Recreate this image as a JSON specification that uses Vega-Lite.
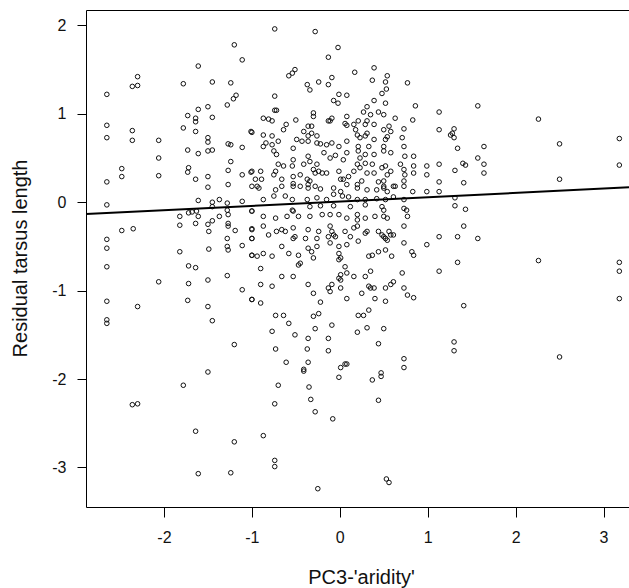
{
  "$schema": "https://vega.github.io/schema/vega-lite/v6.json",
  "autosize": {"type": "none"},
  "padding": {"left": 86, "top": 10, "right": 0, "bottom": 81},
  "width": 543,
  "height": 497,
  "background": "white",
  "config": {
    "view": {"stroke": null},
    "font": "Liberation Sans",
    "axis": {"domainColor": "#000", "tickColor": "#000", "labelColor": "#111", "titleColor": "#111", "grid": false, "labelFont": "Liberation Sans", "titleFont": "Liberation Sans", "titleFontWeight": "normal", "labelFontSize": 16, "titleFontSize": 20, "tickSize": 9, "domainWidth": 1, "tickWidth": 1}
  },
  "datasets": {
    "pts": [
      {"pc3":-1.20,"resid":1.78},{"pc3":-1.11,"resid":1.61},{"pc3":-1.61,"resid":1.54},{"pc3":-2.30,"resid":1.42},{"pc3":-2.36,"resid":1.31},{"pc3":-2.30,"resid":1.32},{"pc3":-1.78,"resid":1.34},{"pc3":-1.45,"resid":1.36},{"pc3":-1.24,"resid":1.35},{"pc3":-2.65,"resid":1.22},{"pc3":-1.18,"resid":1.21},{"pc3":-1.21,"resid":1.17},{"pc3":-1.28,"resid":1.10},{"pc3":-1.50,"resid":1.08},{"pc3":-1.61,"resid":1.05},{"pc3":-1.45,"resid":0.96},{"pc3":-1.73,"resid":0.98},{"pc3":-1.64,"resid":0.95},{"pc3":-1.64,"resid":0.91},{"pc3":-1.78,"resid":0.84},{"pc3":-1.64,"resid":0.80},{"pc3":-2.65,"resid":0.87},{"pc3":-2.65,"resid":0.73},{"pc3":-2.36,"resid":0.81},{"pc3":-2.36,"resid":0.70},{"pc3":-2.06,"resid":0.70},{"pc3":-1.50,"resid":0.73},{"pc3":-1.50,"resid":0.68},{"pc3":-1.01,"resid":0.80},{"pc3":-1.27,"resid":0.66},{"pc3":-1.24,"resid":0.65},{"pc3":-1.11,"resid":0.62},{"pc3":-1.73,"resid":0.59},{"pc3":-1.61,"resid":0.55},{"pc3":-1.50,"resid":0.58},{"pc3":-1.45,"resid":0.59},{"pc3":-2.06,"resid":0.50},{"pc3":-1.24,"resid":0.46},{"pc3":-2.48,"resid":0.38},{"pc3":-2.48,"resid":0.29},{"pc3":-2.06,"resid":0.30},{"pc3":-1.72,"resid":0.39},{"pc3":-1.73,"resid":0.34},{"pc3":-1.64,"resid":0.26},{"pc3":-1.50,"resid":0.29},{"pc3":-1.27,"resid":0.36},{"pc3":-1.11,"resid":0.31},{"pc3":-1.01,"resid":0.34},{"pc3":-2.65,"resid":0.23},{"pc3":-1.50,"resid":0.17},{"pc3":-1.27,"resid":0.20},{"pc3":-0.96,"resid":0.26},
      {"pc3":-2.65,"resid":-0.03},{"pc3":-1.61,"resid":0.02},{"pc3":-1.45,"resid":0.00},{"pc3":-1.37,"resid":0.03},{"pc3":-1.28,"resid":-0.01},{"pc3":-1.11,"resid":0.01},{"pc3":-1.00,"resid":-0.10},{"pc3":-1.82,"resid":-0.16},{"pc3":-1.72,"resid":-0.12},{"pc3":-1.68,"resid":-0.11},{"pc3":-1.63,"resid":-0.10},{"pc3":-1.61,"resid":-0.16},{"pc3":-1.45,"resid":-0.05},{"pc3":-1.45,"resid":-0.21},{"pc3":-1.37,"resid":-0.16},{"pc3":-1.28,"resid":-0.09},{"pc3":-1.27,"resid":-0.14},{"pc3":-1.27,"resid":-0.24},{"pc3":-1.27,"resid":-0.27},{"pc3":-1.82,"resid":-0.26},{"pc3":-1.64,"resid":-0.24},{"pc3":-1.50,"resid":-0.25},{"pc3":-1.49,"resid":-0.33},{"pc3":-1.19,"resid":-0.32},{"pc3":-1.00,"resid":-0.30},{"pc3":-2.48,"resid":-0.32},{"pc3":-2.35,"resid":-0.30},{"pc3":-2.65,"resid":-0.42},{"pc3":-2.65,"resid":-0.52},{"pc3":-1.82,"resid":-0.56},{"pc3":-1.49,"resid":-0.53},{"pc3":-1.28,"resid":-0.41},{"pc3":-1.28,"resid":-0.50},{"pc3":-1.27,"resid":-0.54},{"pc3":-1.11,"resid":-0.49},{"pc3":-1.00,"resid":-0.41},{"pc3":-1.00,"resid":-0.60},{"pc3":-2.65,"resid":-0.73},{"pc3":-1.72,"resid":-0.72},{"pc3":-1.64,"resid":-0.74},{"pc3":-2.06,"resid":-0.90},{"pc3":-1.72,"resid":-0.92},{"pc3":-1.50,"resid":-0.88},{"pc3":-1.28,"resid":-0.83},{"pc3":-1.11,"resid":-0.99},{"pc3":-1.00,"resid":-1.10},{"pc3":-2.65,"resid":-1.12},{"pc3":-2.30,"resid":-1.18},{"pc3":-1.73,"resid":-1.11},{"pc3":-1.50,"resid":-1.18},{"pc3":-1.45,"resid":-1.34},{"pc3":-2.65,"resid":-1.33},{"pc3":-2.65,"resid":-1.37},{"pc3":-1.20,"resid":-1.61},{"pc3":-1.50,"resid":-1.92},
      {"pc3":-1.78,"resid":-2.07},{"pc3":-2.36,"resid":-2.29},{"pc3":-2.30,"resid":-2.28},{"pc3":-1.64,"resid":-2.59},{"pc3":-1.20,"resid":-2.71},{"pc3":-1.61,"resid":-3.07},{"pc3":-1.24,"resid":-3.06},
      {"pc3":1.57,"resid":1.09},{"pc3":2.26,"resid":0.94},{"pc3":1.30,"resid":0.83},{"pc3":1.28,"resid":0.78},{"pc3":1.30,"resid":0.73},{"pc3":1.34,"resid":0.61},{"pc3":1.64,"resid":0.63},{"pc3":3.18,"resid":0.72},{"pc3":2.50,"resid":0.66},{"pc3":1.57,"resid":0.50},{"pc3":1.40,"resid":0.44},{"pc3":1.43,"resid":0.42},{"pc3":1.64,"resid":0.43},{"pc3":1.31,"resid":0.36},{"pc3":1.64,"resid":0.33},{"pc3":3.18,"resid":0.42},{"pc3":1.41,"resid":0.22},{"pc3":2.50,"resid":0.26},
      {"pc3":1.31,"resid":0.05},{"pc3":1.31,"resid":-0.04},{"pc3":1.43,"resid":-0.08},{"pc3":1.41,"resid":-0.27},{"pc3":1.34,"resid":-0.39},{"pc3":1.57,"resid":-0.41},{"pc3":1.34,"resid":-0.68},{"pc3":2.26,"resid":-0.66},{"pc3":3.18,"resid":-0.68},{"pc3":3.18,"resid":-0.78},{"pc3":3.18,"resid":-1.09},{"pc3":1.41,"resid":-1.17},{"pc3":1.30,"resid":-1.58},{"pc3":1.30,"resid":-1.68},{"pc3":2.50,"resid":-1.75},
      {"pc3":-0.70,"resid":-2.07},{"pc3":-0.35,"resid":-2.09},{"pc3":-0.01,"resid":-1.98},{"pc3":0.37,"resid":-2.01},{"pc3":0.47,"resid":-1.97},{"pc3":0.47,"resid":-1.93},{"pc3":-0.41,"resid":-1.91},{"pc3":-0.74,"resid":-2.28},{"pc3":-0.33,"resid":-2.23},{"pc3":-0.28,"resid":-2.37},{"pc3":-0.08,"resid":-2.45},{"pc3":0.44,"resid":-2.24},{"pc3":-0.87,"resid":-2.64},{"pc3":-0.74,"resid":-2.92},{"pc3":-0.74,"resid":-2.99},{"pc3":-0.25,"resid":-3.24},{"pc3":0.53,"resid":-3.13},{"pc3":0.56,"resid":-3.17},
      {"pc3":-0.92,"resid":0.16},{"pc3":-0.73,"resid":0.14},{"pc3":-0.66,"resid":0.18},{"pc3":-0.53,"resid":0.18},{"pc3":-0.36,"resid":0.16},{"pc3":-0.22,"resid":0.15},{"pc3":-0.07,"resid":0.16},{"pc3":0.01,"resid":0.12},{"pc3":0.20,"resid":0.16},{"pc3":0.31,"resid":0.14},{"pc3":0.42,"resid":0.14},{"pc3":0.50,"resid":0.16},{"pc3":0.54,"resid":0.12},{"pc3":0.63,"resid":0.18},{"pc3":0.73,"resid":0.18},{"pc3":0.83,"resid":0.12},{"pc3":0.99,"resid":0.12},{"pc3":1.13,"resid":0.12},
      {"pc3":-0.87,"resid":0.03},{"pc3":-0.75,"resid":0.07},{"pc3":-0.62,"resid":0.07},{"pc3":-0.54,"resid":0.03},{"pc3":-0.37,"resid":0.03},{"pc3":-0.26,"resid":0.05},{"pc3":-0.15,"resid":0.03},{"pc3":-0.07,"resid":0.09},{"pc3":0.03,"resid":0.07},{"pc3":0.10,"resid":0.06},{"pc3":0.20,"resid":0.03},{"pc3":0.29,"resid":0.03},{"pc3":0.42,"resid":0.04},{"pc3":0.52,"resid":0.03},{"pc3":0.61,"resid":0.06},{"pc3":0.73,"resid":0.03},
      {"pc3":-0.54,"resid":-0.09},{"pc3":-0.53,"resid":-0.10},{"pc3":-0.34,"resid":-0.05},{"pc3":-0.22,"resid":-0.04},{"pc3":-0.07,"resid":-0.04},{"pc3":0.12,"resid":-0.05},{"pc3":0.29,"resid":-0.03},{"pc3":0.48,"resid":-0.05},{"pc3":0.50,"resid":-0.09},{"pc3":0.73,"resid":-0.07},{"pc3":0.76,"resid":-0.09},
      {"pc3":-1.00,"resid":-0.10},{"pc3":-0.87,"resid":-0.16},{"pc3":-0.73,"resid":-0.18},{"pc3":-0.60,"resid":-0.16},{"pc3":-0.47,"resid":-0.16},{"pc3":-0.34,"resid":-0.16},{"pc3":-0.20,"resid":-0.14},{"pc3":-0.11,"resid":-0.14},{"pc3":-0.01,"resid":-0.14},{"pc3":0.08,"resid":-0.18},{"pc3":0.20,"resid":-0.14},{"pc3":0.20,"resid":-0.20},{"pc3":0.29,"resid":-0.18},{"pc3":0.40,"resid":-0.16},{"pc3":0.50,"resid":-0.16},{"pc3":0.54,"resid":-0.18},{"pc3":0.77,"resid":-0.16},{"pc3":0.73,"resid":-0.27},
      {"pc3":-0.87,"resid":-0.27},{"pc3":-1.00,"resid":-0.31},{"pc3":-0.72,"resid":-0.33},{"pc3":-0.66,"resid":-0.31},{"pc3":-0.62,"resid":-0.33},{"pc3":-0.53,"resid":-0.29},{"pc3":-0.36,"resid":-0.31},{"pc3":-0.24,"resid":-0.33},{"pc3":-0.11,"resid":-0.27},{"pc3":-0.09,"resid":-0.33},{"pc3":-0.07,"resid":-0.37},{"pc3":0.06,"resid":-0.33},{"pc3":0.16,"resid":-0.29},{"pc3":0.20,"resid":-0.27},{"pc3":0.29,"resid":-0.35},{"pc3":0.31,"resid":-0.33},{"pc3":0.44,"resid":-0.33},{"pc3":0.48,"resid":-0.37},{"pc3":0.56,"resid":-0.33},{"pc3":0.58,"resid":-0.37},{"pc3":0.61,"resid":-0.37},
      {"pc3":-1.00,"resid":-0.41},{"pc3":-0.81,"resid":-0.37},{"pc3":-0.53,"resid":-0.41},{"pc3":-0.51,"resid":-0.39},{"pc3":-0.39,"resid":-0.41},{"pc3":-0.26,"resid":-0.41},{"pc3":-0.13,"resid":-0.39},{"pc3":-0.05,"resid":-0.39},{"pc3":0.12,"resid":-0.39},{"pc3":0.21,"resid":-0.44},{"pc3":0.50,"resid":-0.39},{"pc3":0.52,"resid":-0.41},{"pc3":0.54,"resid":-0.43},{"pc3":1.13,"resid":-0.39},
      {"pc3":-0.66,"resid":-0.50},{"pc3":-0.36,"resid":-0.52},{"pc3":-0.26,"resid":-0.50},{"pc3":-0.11,"resid":-0.46},{"pc3":-0.01,"resid":-0.50},{"pc3":0.08,"resid":-0.48},{"pc3":0.99,"resid":-0.48},{"pc3":0.73,"resid":-0.46},
      {"pc3":-1.00,"resid":-0.60},{"pc3":-0.87,"resid":-0.58},{"pc3":-0.77,"resid":-0.61},{"pc3":-0.94,"resid":-0.61},{"pc3":-0.58,"resid":-0.58},{"pc3":-0.47,"resid":-0.60},{"pc3":-0.32,"resid":-0.56},{"pc3":-0.30,"resid":-0.63},{"pc3":-0.01,"resid":-0.58},{"pc3":0.01,"resid":-0.63},{"pc3":0.33,"resid":-0.61},{"pc3":0.37,"resid":-0.60},{"pc3":0.44,"resid":-0.56},{"pc3":0.52,"resid":-0.54},{"pc3":0.59,"resid":-0.61},{"pc3":0.82,"resid":-0.56},{"pc3":0.84,"resid":-0.60},
      {"pc3":-0.90,"resid":-0.75},{"pc3":-0.47,"resid":-0.71},{"pc3":-0.45,"resid":-0.69},{"pc3":-0.01,"resid":-0.65},{"pc3":0.06,"resid":-0.73},{"pc3":0.08,"resid":-0.80},{"pc3":0.01,"resid":-0.82},{"pc3":0.16,"resid":-0.84},{"pc3":0.29,"resid":-0.84},{"pc3":0.35,"resid":-0.78},{"pc3":0.71,"resid":-0.80},{"pc3":1.13,"resid":-0.78},
      {"pc3":-0.66,"resid":-0.84},{"pc3":-0.53,"resid":-0.84},{"pc3":-0.01,"resid":-0.86},{"pc3":0.01,"resid":-0.88},{"pc3":-0.09,"resid":-0.93},{"pc3":-0.13,"resid":-0.97},{"pc3":-0.36,"resid":-0.93},{"pc3":-0.90,"resid":-0.93},{"pc3":-0.77,"resid":-0.95},{"pc3":0.33,"resid":-0.95},{"pc3":0.35,"resid":-0.97},{"pc3":0.39,"resid":-0.97},{"pc3":0.52,"resid":-0.97},{"pc3":0.58,"resid":-0.93},{"pc3":0.61,"resid":-0.90},{"pc3":0.73,"resid":-0.97},
      {"pc3":-0.30,"resid":-1.03},{"pc3":-0.11,"resid":-1.01},{"pc3":0.01,"resid":-0.97},{"pc3":0.08,"resid":-1.09},{"pc3":0.25,"resid":-1.03},{"pc3":0.40,"resid":-1.09},{"pc3":0.52,"resid":-1.12},{"pc3":0.77,"resid":-1.05},{"pc3":0.84,"resid":-1.08},{"pc3":-1.00,"resid":-1.10},{"pc3":-0.90,"resid":-1.14},{"pc3":-0.22,"resid":-1.13},
      {"pc3":-0.73,"resid":-1.28},{"pc3":-0.64,"resid":-1.28},{"pc3":-0.24,"resid":-1.26},{"pc3":-0.30,"resid":-1.29},{"pc3":0.21,"resid":-1.28},{"pc3":0.27,"resid":-1.28},{"pc3":0.33,"resid":-1.22},{"pc3":-0.58,"resid":-1.37},{"pc3":-0.28,"resid":-1.43},{"pc3":-0.09,"resid":-1.39},{"pc3":-0.77,"resid":-1.46},{"pc3":-0.51,"resid":-1.50},{"pc3":0.20,"resid":-1.47},{"pc3":0.31,"resid":-1.42},{"pc3":0.50,"resid":-1.43},
      {"pc3":-0.36,"resid":-1.54},{"pc3":-0.13,"resid":-1.54},{"pc3":-0.73,"resid":-1.66},{"pc3":-0.37,"resid":-1.66},{"pc3":-0.13,"resid":-1.68},{"pc3":0.44,"resid":-1.60},{"pc3":-0.61,"resid":-1.81},{"pc3":-0.36,"resid":-1.81},{"pc3":0.01,"resid":-1.87},{"pc3":0.08,"resid":-1.83},{"pc3":0.06,"resid":-1.83},{"pc3":0.73,"resid":-1.77},{"pc3":0.73,"resid":-1.87},{"pc3":-0.41,"resid":-1.89},
      {"pc3":-0.74,"resid":1.96},{"pc3":-0.28,"resid":1.93},{"pc3":-0.02,"resid":1.75},{"pc3":-0.13,"resid":1.64},{"pc3":0.17,"resid":1.47},{"pc3":0.39,"resid":1.52},{"pc3":-0.58,"resid":1.43},{"pc3":-0.54,"resid":1.46},{"pc3":-0.51,"resid":1.50},{"pc3":-0.37,"resid":1.33},{"pc3":-0.34,"resid":1.27},{"pc3":-0.24,"resid":1.36},{"pc3":-0.13,"resid":1.33},{"pc3":-0.09,"resid":1.41},{"pc3":0.37,"resid":1.38},{"pc3":0.52,"resid":1.36},{"pc3":0.54,"resid":1.43},{"pc3":0.77,"resid":1.35},{"pc3":0.53,"resid":1.28},{"pc3":0.48,"resid":1.23},
      {"pc3":-0.74,"resid":1.20},{"pc3":-0.07,"resid":1.15},{"pc3":-0.01,"resid":1.22},{"pc3":0.08,"resid":1.21},{"pc3":-0.02,"resid":1.12},{"pc3":0.39,"resid":1.15},{"pc3":0.52,"resid":1.12},{"pc3":0.86,"resid":1.09},{"pc3":1.13,"resid":1.02},{"pc3":-0.74,"resid":1.04},{"pc3":-0.72,"resid":1.04},{"pc3":-0.30,"resid":1.01},{"pc3":0.31,"resid":1.08},{"pc3":0.27,"resid":1.02},{"pc3":0.44,"resid":1.02},{"pc3":0.50,"resid":0.99},{"pc3":0.35,"resid":0.99},
      {"pc3":-0.87,"resid":0.95},{"pc3":-0.81,"resid":0.94},{"pc3":-0.77,"resid":0.92},{"pc3":-1.00,"resid":0.79},{"pc3":-0.87,"resid":0.76},{"pc3":-0.77,"resid":0.75},{"pc3":-0.64,"resid":0.82},{"pc3":-0.61,"resid":0.88},{"pc3":-0.50,"resid":0.93},{"pc3":-0.30,"resid":0.97},{"pc3":-0.13,"resid":0.92},{"pc3":-0.09,"resid":0.95},{"pc3":-0.11,"resid":0.92},{"pc3":0.08,"resid":0.97},{"pc3":0.06,"resid":0.89},{"pc3":0.08,"resid":0.87},{"pc3":0.16,"resid":0.88},{"pc3":0.21,"resid":0.92},{"pc3":0.29,"resid":0.88},{"pc3":0.31,"resid":0.92},{"pc3":0.18,"resid":0.82},{"pc3":0.39,"resid":0.88},{"pc3":0.31,"resid":0.78},{"pc3":0.20,"resid":0.76},{"pc3":0.56,"resid":0.86},{"pc3":0.58,"resid":0.80},{"pc3":0.50,"resid":0.82},{"pc3":0.63,"resid":0.95},{"pc3":0.73,"resid":0.83},{"pc3":0.83,"resid":0.93},{"pc3":1.13,"resid":0.82},{"pc3":1.26,"resid":0.76},
      {"pc3":-0.84,"resid":0.67},{"pc3":-0.77,"resid":0.65},{"pc3":-0.70,"resid":0.69},{"pc3":-0.87,"resid":0.63},{"pc3":-0.75,"resid":0.58},{"pc3":-0.72,"resid":0.54},{"pc3":-0.53,"resid":0.61},{"pc3":-0.49,"resid":0.71},{"pc3":-0.43,"resid":0.69},{"pc3":-0.41,"resid":0.80},{"pc3":-0.36,"resid":0.86},{"pc3":-0.32,"resid":0.86},{"pc3":-0.32,"resid":0.78},{"pc3":-0.26,"resid":0.75},{"pc3":-0.36,"resid":0.75},{"pc3":-0.36,"resid":0.69},{"pc3":-0.26,"resid":0.67},{"pc3":-0.22,"resid":0.66},{"pc3":-0.15,"resid":0.65},{"pc3":-0.09,"resid":0.67},{"pc3":-0.01,"resid":0.63},{"pc3":0.08,"resid":0.69},{"pc3":0.21,"resid":0.63},{"pc3":0.23,"resid":0.73},{"pc3":0.29,"resid":0.75},{"pc3":0.33,"resid":0.63},{"pc3":0.39,"resid":0.71},{"pc3":0.50,"resid":0.63},{"pc3":0.52,"resid":0.71},{"pc3":0.54,"resid":0.74},{"pc3":0.50,"resid":0.58},{"pc3":0.58,"resid":0.56},{"pc3":0.71,"resid":0.73},{"pc3":0.73,"resid":0.63},
      {"pc3":0.84,"resid":0.52},{"pc3":0.74,"resid":0.52},{"pc3":0.39,"resid":0.54},{"pc3":0.29,"resid":0.54},{"pc3":0.21,"resid":0.58},{"pc3":0.23,"resid":0.50},{"pc3":0.08,"resid":0.56},{"pc3":-0.05,"resid":0.53},{"pc3":-0.11,"resid":0.50},{"pc3":0.04,"resid":0.48},{"pc3":-0.18,"resid":0.56},{"pc3":-0.36,"resid":0.52},{"pc3":-0.34,"resid":0.46},{"pc3":-0.26,"resid":0.43},{"pc3":-0.30,"resid":0.37},{"pc3":-0.24,"resid":0.35},{"pc3":-0.41,"resid":0.43},{"pc3":-0.53,"resid":0.48},{"pc3":-0.54,"resid":0.41},{"pc3":-0.64,"resid":0.41},{"pc3":-0.70,"resid":0.43},{"pc3":-0.73,"resid":0.35},{"pc3":-0.75,"resid":0.31},{"pc3":-0.90,"resid":0.35},{"pc3":-1.00,"resid":0.35},
      {"pc3":-0.89,"resid":0.26},{"pc3":-0.66,"resid":0.26},{"pc3":-0.53,"resid":0.29},{"pc3":-0.45,"resid":0.31},{"pc3":-0.37,"resid":0.26},{"pc3":-0.34,"resid":0.24},{"pc3":-0.28,"resid":0.33},{"pc3":-0.20,"resid":0.33},{"pc3":-0.15,"resid":0.33},{"pc3":-0.01,"resid":0.35},{"pc3":0.04,"resid":0.26},{"pc3":0.10,"resid":0.29},{"pc3":0.16,"resid":0.35},{"pc3":0.23,"resid":0.39},{"pc3":0.29,"resid":0.44},{"pc3":0.37,"resid":0.43},{"pc3":0.20,"resid":0.43},{"pc3":0.31,"resid":0.33},{"pc3":0.39,"resid":0.33},{"pc3":0.48,"resid":0.39},{"pc3":0.52,"resid":0.41},{"pc3":0.54,"resid":0.31},{"pc3":0.58,"resid":0.35},{"pc3":0.50,"resid":0.24},{"pc3":0.69,"resid":0.43},{"pc3":0.73,"resid":0.37},{"pc3":0.74,"resid":0.31},{"pc3":0.73,"resid":0.24},{"pc3":0.84,"resid":0.41},{"pc3":0.84,"resid":0.33},{"pc3":0.99,"resid":0.41},{"pc3":0.99,"resid":0.31},{"pc3":1.13,"resid":0.43},{"pc3":1.13,"resid":0.23},
      {"pc3":-1.00,"resid":0.18},{"pc3":-0.94,"resid":0.18},{"pc3":-0.53,"resid":0.21},{"pc3":-0.45,"resid":0.18},{"pc3":-0.36,"resid":0.20},{"pc3":-0.28,"resid":0.18},{"pc3":0.01,"resid":0.26},{"pc3":0.08,"resid":0.20},{"pc3":0.20,"resid":0.20},{"pc3":0.25,"resid":0.24},{"pc3":0.44,"resid":0.23},{"pc3":0.50,"resid":0.18},{"pc3":0.61,"resid":0.18}
    ],
    "fit": [
      {"pc3": -2.887, "resid": -0.134},
      {"pc3": 3.29, "resid": 0.168}
    ]
  },
  "layer": [
    {
      "data": {"name": "pts"},
      "mark": {"type": "point", "shape": "circle", "filled": false, "stroke": "#111", "strokeWidth": 1, "size": 21, "opacity": 1, "clip": true},
      "encoding": {
        "x": {"field": "pc3", "type": "quantitative", "scale": {"domain": [-2.887, 3.29], "nice": false, "zero": false},
          "axis": {"orient": "bottom", "values": [-2, -1, 0, 1, 2, 3], "labelExpr": "'' + datum.value", "title": "PC3-'aridity'", "tickSize": 10, "labelPadding": 12, "titleX": 275, "titleY": 76, "titleBaseline": "alphabetic", "titleAnchor": null}},
        "y": {"field": "resid", "type": "quantitative", "scale": {"domain": [-3.447, 2.174], "nice": false, "zero": false},
          "axis": {"values": [-3, -2, -1, 0, 1, 2], "labelExpr": "'' + datum.value", "title": "Residual tarsus length", "tickSize": 9, "labelPadding": 11, "titleX": -66, "titleY": 248, "titleBaseline": "middle", "titleAnchor": null}}
      }
    },
    {
      "data": {"name": "fit"},
      "mark": {"type": "line", "color": "#000", "strokeWidth": 2, "clip": true},
      "encoding": {
        "x": {"field": "pc3", "type": "quantitative", "axis": {"orient": "top", "labels": false, "ticks": false, "title": null, "domain": true}},
        "y": {"field": "resid", "type": "quantitative"}
      }
    }
  ],
  "resolve": {"axis": {"x": "independent"}}
}
